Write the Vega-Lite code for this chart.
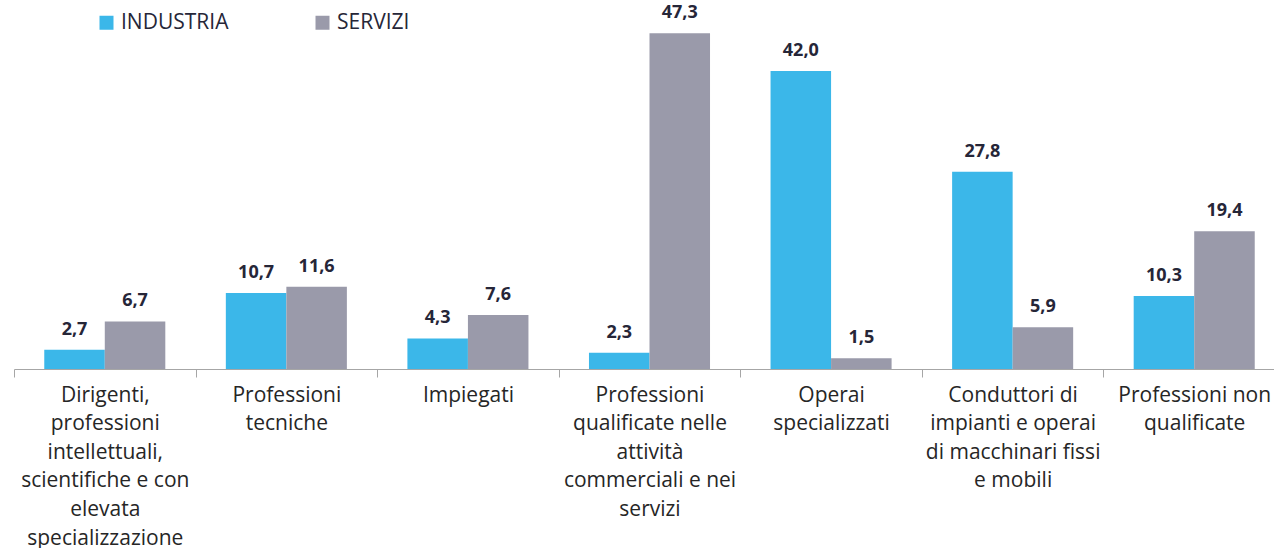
{
  "$schema": "https://vega.github.io/schema/vega-lite/v6.json",
  "width": 1271,
  "height": 369,
  "padding": {"left": 13, "top": 0, "right": 0, "bottom": 0},
  "data": {
    "values": [
      {"cat": "Dirigenti,\nprofessioni\nintellettuali,\nscientifiche e con\nelevata\nspecializzazione", "serie": "INDUSTRIA", "value": 2.7},
      {"cat": "Dirigenti,\nprofessioni\nintellettuali,\nscientifiche e con\nelevata\nspecializzazione", "serie": "SERVIZI", "value": 6.7},
      {"cat": "Professioni\ntecniche", "serie": "INDUSTRIA", "value": 10.7},
      {"cat": "Professioni\ntecniche", "serie": "SERVIZI", "value": 11.6},
      {"cat": "Impiegati", "serie": "INDUSTRIA", "value": 4.3},
      {"cat": "Impiegati", "serie": "SERVIZI", "value": 7.6},
      {"cat": "Professioni\nqualificate nelle\nattività\ncommerciali e nei\nservizi", "serie": "INDUSTRIA", "value": 2.3},
      {"cat": "Professioni\nqualificate nelle\nattività\ncommerciali e nei\nservizi", "serie": "SERVIZI", "value": 47.3},
      {"cat": "Operai\nspecializzati", "serie": "INDUSTRIA", "value": 42.0},
      {"cat": "Operai\nspecializzati", "serie": "SERVIZI", "value": 1.5},
      {"cat": "Conduttori di\nimpianti e operai\ndi macchinari fissi\ne mobili", "serie": "INDUSTRIA", "value": 27.8},
      {"cat": "Conduttori di\nimpianti e operai\ndi macchinari fissi\ne mobili", "serie": "SERVIZI", "value": 5.9},
      {"cat": "Professioni non\nqualificate", "serie": "INDUSTRIA", "value": 10.3},
      {"cat": "Professioni non\nqualificate", "serie": "SERVIZI", "value": 19.4}
    ]
  },
  "encoding": {
    "x": {
      "field": "cat",
      "type": "nominal",
      "sort": null,
      "scale": {"paddingInner": 0, "paddingOuter": 0},
      "axis": {
        "title": null,
        "labelAngle": 0,
        "tickBand": "extent",
        "labelExpr": "split(datum.label, '\\n')",
        "labelFont": "Open Sans",
        "labelFontSize": 21,
        "labelColor": "#262626",
        "labelLineHeight": 28.6,
        "labelPadding": 7,
        "labelBaseline": "top",
        "labelLimit": 0,
        "tickSize": 8,
        "tickColor": "#a6a6a6",
        "domainColor": "#a6a6a6",
        "labelOverlap": false
      }
    },
    "xOffset": {
      "field": "serie",
      "type": "nominal",
      "scale": {"paddingInner": 0, "paddingOuter": 0.5}
    },
    "y": {
      "field": "value",
      "type": "quantitative",
      "scale": {"domain": [0, 52], "nice": false},
      "axis": null
    }
  },
  "layer": [
    {
      "mark": {"type": "bar"},
      "encoding": {
        "color": {
          "field": "serie",
          "type": "nominal",
          "scale": {"domain": ["INDUSTRIA", "SERVIZI"], "range": ["#3bb7e9", "#9a9aaa"]},
          "legend": {
            "title": null,
            "orient": "none",
            "direction": "horizontal",
            "legendX": 82,
            "legendY": 12,
            "symbolType": "square",
            "symbolSize": 196,
            "symbolStrokeWidth": 0,
            "labelFont": "Open Sans",
            "labelFontSize": 21,
            "labelColor": "#262638",
            "labelOffset": 4,
            "columnPadding": 83
          }
        }
      }
    },
    {
      "mark": {"type": "text", "baseline": "alphabetic", "dy": -15, "font": "Open Sans", "fontSize": 18, "fontWeight": "bold", "color": "#262638"},
      "encoding": {
        "text": {"field": "value", "type": "quantitative", "format": ".1f"}
      }
    }
  ],
  "config": {
    "view": {"stroke": null},
    "locale": {"number": {"decimal": ",", "thousands": ".", "grouping": [3], "currency": ["", " €"]}}
  }
}
